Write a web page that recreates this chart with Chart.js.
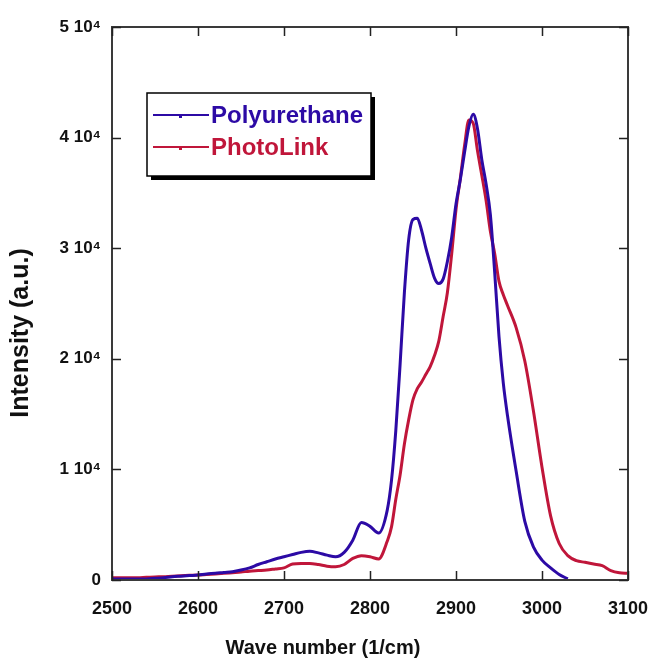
<!DOCTYPE html>
<html>
<head>
<meta charset="utf-8">
<script src="https://cdn.jsdelivr.net/npm/chart.js@4.4.1/dist/chart.umd.min.js"></script>
<style>
  html, body { margin: 0; padding: 0; background: #fff; }
  #wrap { width: 648px; height: 664px; }
</style>
</head>
<body>
<div id="wrap"><canvas id="spectrum" width="648" height="664"></canvas></div>
<script>
// Raman spectra, C-H stretching region

const wavenumbers = [
  2500, 2510, 2520, 2530, 2540, 2550, 2560, 2570, 2580, 2590,
  2600, 2610, 2620, 2630, 2640, 2650, 2660, 2670, 2680, 2690,
  2700, 2710, 2720, 2730, 2740, 2750, 2760, 2770, 2780, 2790,
  2800, 2810,
  2820, 2825, 2830, 2835, 2840, 2845, 2850, 2855, 2860, 2865,
  2870, 2875, 2880, 2885, 2890, 2895, 2900, 2905, 2910, 2915,
  2920, 2925, 2930, 2935, 2940, 2945, 2950, 2955, 2960,
  2970, 2980, 2990, 3000, 3010, 3020, 3030, 3040, 3050, 3060,
  3070, 3080, 3090, 3100
];

const polyurethane = [
  100, 100, 100, 100, 100, 150, 200, 300, 350, 400,
  450, 550, 600, 680, 750, 900, 1100, 1400, 1650, 1900,
  2100, 2300, 2500, 2600, 2450, 2250, 2100, 2500, 3600, 5200,
  4850, 4250,
  6300, 9000, 13500, 19500, 26000, 30800, 32600, 32700, 31600, 30000,
  28600, 27300, 26800, 27200, 28800, 31000, 34000, 36200, 38700, 41000,
  42100, 40800, 38000, 35800, 33000, 27800, 22000, 17800, 14800,
  9800, 5300, 3000, 1800, 1100, 500, 100, null, null, null,
  null, null, null, null
];

const photolink = [
  200, 200, 200, 200, 250, 280, 300, 350, 380, 420,
  450, 500, 550, 600, 660, 720, 800, 850, 900, 1000,
  1100, 1450, 1500, 1500, 1400, 1250, 1200, 1400, 1950, 2200,
  2100, 1900,
  3500, 4800, 7300, 9500, 12300, 14500, 16300, 17300, 17900, 18600,
  19300, 20300, 21600, 23800, 26000, 29500, 33500, 36300, 39300, 41600,
  41300, 38800, 36600, 34300, 31500, 29500, 27000, 25800, 24800,
  22800, 19800, 15300, 10200, 5800, 3300, 2200, 1750, 1600, 1450,
  1300, 850, 650, 600
];

const xTicks = [2500, 2600, 2700, 2800, 2900, 3000, 3100];
const yTicks = [0, 10000, 20000, 30000, 40000, 50000];

const xTitle = 'Wave number (1/cm)';
const yTitle = 'Intensity (a.u.)';

const blue = 'rgb(44, 10, 165)';
const red = 'rgb(192, 22, 58)';
const fontFamily = '"Liberation Sans", Arial, sans-serif';

function toPoints(values) {
  return wavenumbers.map((w, i) => ({ x: w, y: values[i] }));
}

function yLabel(v) {
  if (v === 0) return '0';
  return (v / 10000) + ' 10\u2074';
}

// frame + inward ticks on all four sides, like the original plot software
const framePlugin = {
  id: 'frame',
  afterDraw(chart) {
    const { ctx, chartArea: a, scales } = chart;
    ctx.save();
    ctx.strokeStyle = '#3a3a3a';
    ctx.lineWidth = 2;
    ctx.strokeRect(a.left, a.top, a.right - a.left, a.bottom - a.top);
    ctx.lineWidth = 1.5;
    ctx.strokeStyle = '#222';
    const len = 9;
    xTicks.forEach(t => {
      const px = Math.round(scales.x.getPixelForValue(t)) + 0.5;
      ctx.beginPath();
      ctx.moveTo(px, a.bottom); ctx.lineTo(px, a.bottom - len);
      ctx.moveTo(px, a.top); ctx.lineTo(px, a.top + len);
      ctx.stroke();
    });
    yTicks.forEach(t => {
      const py = Math.round(scales.y.getPixelForValue(t)) + 0.5;
      ctx.beginPath();
      ctx.moveTo(a.left, py); ctx.lineTo(a.left + len, py);
      ctx.moveTo(a.right, py); ctx.lineTo(a.right - len, py);
      ctx.stroke();
    });
    ctx.restore();
  }
};

// axis titles sit a bit off-centre in the original, so draw them here
const axisTitles = {
  id: 'axisTitles',
  afterDraw(chart) {
    const ctx = chart.ctx;
    ctx.save();
    ctx.fillStyle = '#111';
    ctx.textAlign = 'center';
    ctx.textBaseline = 'middle';
    ctx.font = 'bold 20px ' + fontFamily;
    ctx.fillText(xTitle, 323, 648);
    ctx.translate(21, 333);
    ctx.rotate(-Math.PI / 2);
    ctx.font = 'bold 25px ' + fontFamily;
    ctx.fillText(yTitle, 0, 0);
    ctx.restore();
  }
};

// boxed legend with drop shadow inside the plot
const boxLegend = {
  id: 'boxLegend',
  afterDraw(chart) {
    const ctx = chart.ctx;
    const bx = 147, by = 93, bw = 224, bh = 83;
    ctx.save();
    ctx.fillStyle = '#000';
    ctx.fillRect(bx + 4, by + 4, bw, bh);
    ctx.fillStyle = '#fff';
    ctx.fillRect(bx, by, bw, bh);
    ctx.strokeStyle = '#000';
    ctx.lineWidth = 1.5;
    ctx.strokeRect(bx, by, bw, bh);
    ctx.font = 'bold 24px ' + fontFamily;
    ctx.textBaseline = 'middle';
    chart.data.datasets.forEach((ds, i) => {
      const y = by + 22 + i * 32;
      ctx.strokeStyle = ds.borderColor;
      ctx.lineWidth = 2;
      ctx.beginPath();
      ctx.moveTo(bx + 6, y); ctx.lineTo(bx + 62, y);
      ctx.stroke();
      ctx.fillStyle = ds.borderColor;
      ctx.fillRect(bx + 32, y - 1, 3, 4);
      ctx.fillText(ds.label, bx + 64, y + 1);
    });
    ctx.restore();
  }
};

new Chart(document.getElementById('spectrum'), {
  type: 'line',
  data: {
    datasets: [
      {
        label: 'Polyurethane',
        data: toPoints(polyurethane),
        borderColor: blue,
        borderWidth: 3,
        pointRadius: 0,
        cubicInterpolationMode: 'monotone',
        spanGaps: false
      },
      {
        label: 'PhotoLink',
        data: toPoints(photolink),
        borderColor: red,
        borderWidth: 3,
        pointRadius: 0,
        cubicInterpolationMode: 'monotone'
      }
    ]
  },
  options: {
    responsive: false,
    animation: false,
    layout: { padding: { left: 0, right: 20, top: 27, bottom: 0 } },
    plugins: { legend: { display: false }, tooltip: { enabled: false } },
    scales: {
      x: {
        type: 'linear',
        min: 2500,
        max: 3100,
        grid: { display: false, drawTicks: false },
        border: { display: false },
        afterBuildTicks: s => { s.ticks = xTicks.map(v => ({ value: v })); },
        afterFit: s => { s.height = 84; s.paddingLeft = 0; s.paddingRight = 0; },
        ticks: {
          padding: 18,
          color: '#111',
          font: { family: fontFamily, size: 18, weight: 'bold' },
          callback: v => String(v)
        }
      },
      y: {
        min: 0,
        max: 50000,
        grid: { display: false, drawTicks: false },
        border: { display: false },
        afterBuildTicks: s => { s.ticks = yTicks.map(v => ({ value: v })); },
        afterFit: s => { s.width = 112; s.paddingTop = 0; s.paddingBottom = 0; },
        ticks: {
          padding: 11,
          color: '#111',
          font: { family: fontFamily, size: 17, weight: 'bold' },
          callback: v => yLabel(v)
        }
      }
    }
  },
  plugins: [framePlugin, axisTitles, boxLegend]
});
</script>
</body>
</html>
